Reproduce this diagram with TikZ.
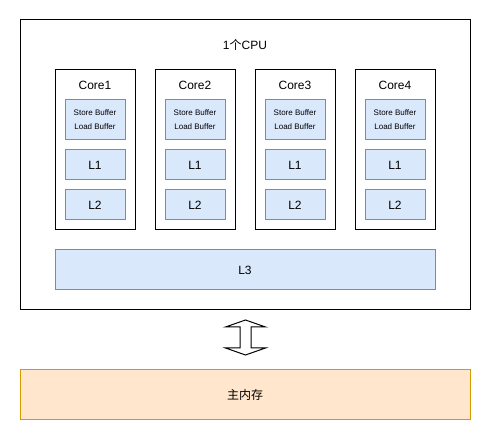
\documentclass[tikz,border=0pt]{standalone}
\usepackage{fontspec}
\setmainfont{Liberation Sans}
\newfontfamily\cjk{Noto Sans CJK SC}
\usepackage{xcolor}
\usetikzlibrary{positioning, calc}

\definecolor{cachefill}{HTML}{DAE8FC}
\definecolor{cacheline}{HTML}{6C8EBF}
\definecolor{memfill}{HTML}{FFE6CC}
\definecolor{memline}{HTML}{D79B00}

\begin{document}
\begin{tikzpicture}[
  x=1pt, y=1pt,
  every node/.style={inner sep=0pt, outer sep=0pt},
  frame/.style={draw=black, line width=1pt, fill=white},
  core/.style={frame, minimum width=80pt, minimum height=160pt},
  cache/.style={draw=cacheline, fill=cachefill, line width=1pt,
                minimum width=60pt, align=center, font=\fontsize{12}{14}\selectfont},
  buf/.style={cache, minimum height=40pt, font=\fontsize{8}{14}\selectfont},
  lvl/.style={cache, minimum height=30pt},
  lbl/.style={font=\fontsize{12}{14}\selectfont}
]
  \useasboundingbox (0,0) rectangle (491,441);

  % CPU package
  \node[frame, minimum width=450pt, minimum height=290pt] (cpu) at (245,276) {};
  \node[lbl] (cputitle) at (245,396) {1{\cjk 个}CPU};

  % cores
  \node[core] (core1) at (95,291) {};
  \node[core, right=20pt of core1] (core2) {};
  \node[core, right=20pt of core2] (core3) {};
  \node[core, right=20pt of core3] (core4) {};

  \node[lbl, below=15pt of core1.north, anchor=center] (name1) {Core1};
  \node[lbl, below=15pt of core2.north, anchor=center] (name2) {Core2};
  \node[lbl, below=15pt of core3.north, anchor=center] (name3) {Core3};
  \node[lbl, below=15pt of core4.north, anchor=center] (name4) {Core4};

  \node[buf, below=30pt of core1.north] (sb1) {Store Buffer\\Load Buffer};
  \node[buf, below=30pt of core2.north] (sb2) {Store Buffer\\Load Buffer};
  \node[buf, below=30pt of core3.north] (sb3) {Store Buffer\\Load Buffer};
  \node[buf, below=30pt of core4.north] (sb4) {Store Buffer\\Load Buffer};

  \node[lvl, below=10pt of sb1] (la1) {L1};
  \node[lvl, below=10pt of sb2] (la2) {L1};
  \node[lvl, below=10pt of sb3] (la3) {L1};
  \node[lvl, below=10pt of sb4] (la4) {L1};

  \node[lvl, below=10pt of la1] (lb1) {L2};
  \node[lvl, below=10pt of la2] (lb2) {L2};
  \node[lvl, below=10pt of la3] (lb3) {L2};
  \node[lvl, below=10pt of la4] (lb4) {L2};

  % shared cache
  \node[cache, minimum width=380pt, minimum height=40pt] (l3) at (245,171) {L3};

  % main memory
  \node[draw=memline, fill=memfill, line width=1pt, minimum width=450pt,
        minimum height=50pt, font=\fontsize{12}{14}\selectfont\cjk] (mem) at (245,46) {主内存};

  % bus between CPU and memory
  \coordinate (bus) at (245.5,103.5);
  \draw[line width=1pt, fill=white, line join=miter]
    ($(bus)+(0,17.5)$) -- ++(20,-7) -- ++(-14.5,0) -- ++(0,-21) -- ++(14.5,0)
    -- ++(-20,-7) -- ++(-20,7) -- ++(14.5,0) -- ++(0,21) -- ++(-14.5,0) -- cycle;
\end{tikzpicture}
\end{document}
